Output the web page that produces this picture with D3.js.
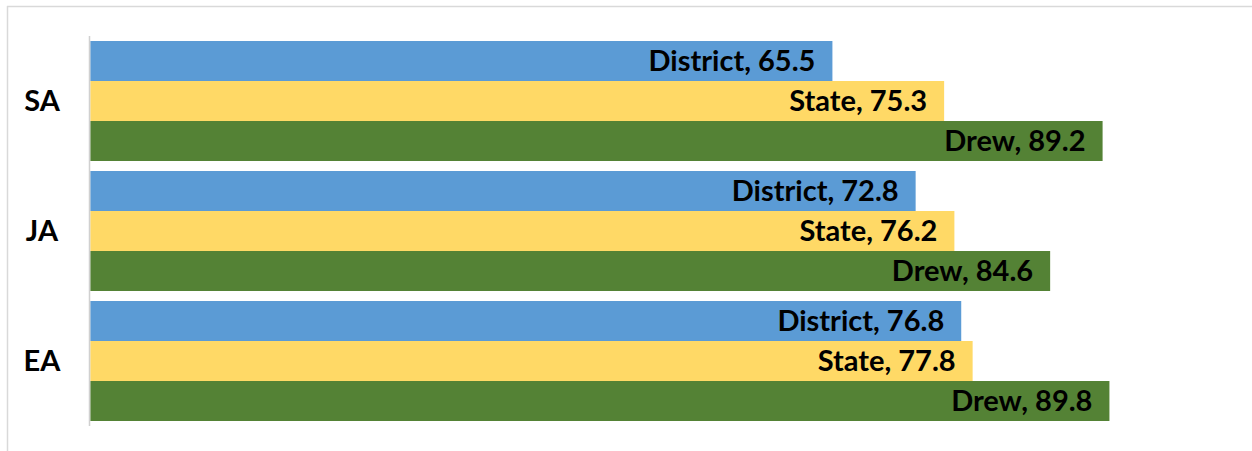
<!DOCTYPE html>
<html>
<head>
<meta charset="utf-8">
<script src="https://cdn.jsdelivr.net/npm/d3@7"></script>
<style>
  html, body { margin: 0; padding: 0; background: #fff; }
  svg { display: block; }
</style>
</head>
<body>
<script>
const categories = ["SA", "JA", "EA"];
const seriesNames = ["District", "State", "Drew"];
const districtValues = [65.5, 72.8, 76.8];
const stateValues = [75.3, 76.2, 77.8];
const drewValues = [89.2, 84.6, 89.8];
const seriesColors = ["#5B9BD5", "#FFD966", "#548235"];

const seriesValues = [districtValues, stateValues, drewValues];
const W = 1252, H = 451;
const FONT = "Lato, 'Liberation Sans', sans-serif";

const svg = d3.select("body").append("svg").attr("width", W).attr("height", H);
svg.append("rect").attr("width", W).attr("height", H).attr("fill", "#fff");

// chart border (top and left visible)
svg.append("line").attr("x1", 7).attr("x2", W).attr("y1", 6.5).attr("y2", 6.5)
  .attr("stroke", "#D9D9D9").attr("stroke-width", 1.5);
svg.append("line").attr("x1", 7.5).attr("x2", 7.5).attr("y1", 6).attr("y2", H)
  .attr("stroke", "#D9D9D9").attr("stroke-width", 1.5);

const x = d3.scaleLinear().domain([0.4, 100]).range([90.3, 1225.7]);
const y = d3.scaleBand().domain(categories).range([36, 426])
  .paddingInner(10 / 130).paddingOuter(5 / 130);
const ySub = d3.scaleBand().domain(seriesNames).range([0, y.bandwidth()]).padding(0);

const rows = [];
categories.forEach((c, ci) => {
  seriesNames.forEach((s, si) => {
    rows.push({ cat: c, series: s, value: seriesValues[si][ci], color: seriesColors[si] });
  });
});

const g = svg.append("g");
g.selectAll("rect.bar").data(rows).join("rect")
  .attr("class", "bar")
  .attr("x", x(x.domain()[0]))
  .attr("y", d => y(d.cat) + ySub(d.series))
  .attr("width", d => x(d.value) - x(x.domain()[0]))
  .attr("height", ySub.bandwidth())
  .attr("fill", d => d.color);

g.selectAll("text.lbl").data(rows).join("text")
  .attr("class", "lbl")
  .attr("x", d => x(d.value) - 17)
  .attr("y", d => y(d.cat) + ySub(d.series) + ySub.bandwidth() / 2)
  .attr("dy", "0.36em")
  .attr("text-anchor", "end")
  .attr("font-family", FONT)
  .attr("font-weight", "bold")
  .attr("font-size", 29)
  .attr("fill", "#000")
  .text(d => `${d.series}, ${d.value}`);

// vertical axis line
svg.append("line").attr("x1", 89.5).attr("x2", 89.5)
  .attr("y1", y.range()[0]).attr("y2", y.range()[1])
  .attr("stroke", "#D0D0D0").attr("stroke-width", 1.5);

// category labels
svg.selectAll("text.cat").data(categories).join("text")
  .attr("class", "cat")
  .attr("x", 42)
  .attr("y", d => y(d) + y.bandwidth() / 2)
  .attr("dy", "0.36em")
  .attr("text-anchor", "middle")
  .attr("font-family", FONT)
  .attr("font-weight", "bold")
  .attr("font-size", 29)
  .attr("fill", "#000")
  .text(d => d);
</script>
</body>
</html>
